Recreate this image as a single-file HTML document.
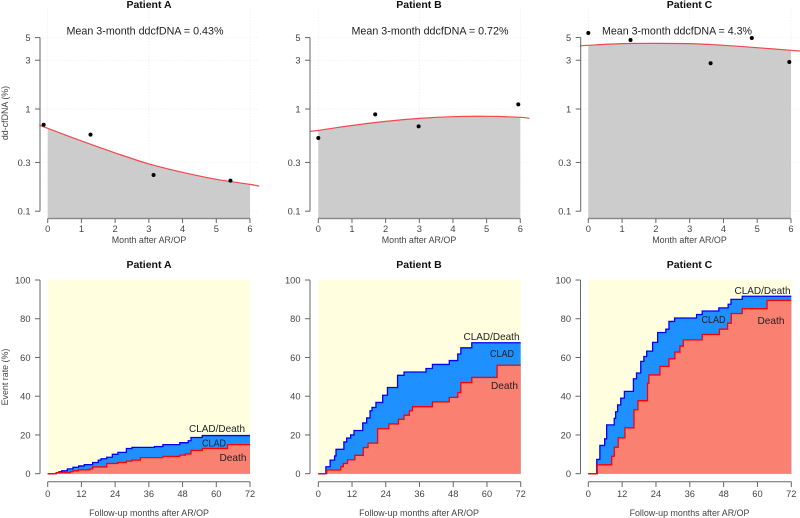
<!DOCTYPE html>
<html lang="en">
<head>
<meta charset="utf-8">
<title>Patient ddcfDNA and event rate charts</title>
<style>
html,body{margin:0;padding:0;background:#fff;}
svg{display:block;font-family:"Liberation Sans",sans-serif;}
.title{font-size:10.5px;font-weight:bold;fill:#111;text-anchor:middle;}
.axt{font-size:8.9px;fill:#444;text-anchor:middle;}
.tick{font-size:9.3px;fill:#444;}
.note{font-size:11px;fill:#222;}
.lab{font-size:10.5px;fill:#222;text-anchor:middle;}
</style>
</head>
<body>
<svg id="fig" width="800" height="518" viewBox="0 0 800 518" xmlns="http://www.w3.org/2000/svg">
<rect width="800" height="518" fill="#fff"/>
<g id="marks"></g>
<text class="title" x="149" y="8">Patient A</text>
<text class="title" x="419" y="8">Patient B</text>
<text class="title" x="689.5" y="8">Patient C</text>
<text class="title" x="149" y="268">Patient A</text>
<text class="title" x="419" y="268">Patient B</text>
<text class="title" x="689.5" y="268">Patient C</text>
<text class="note" x="66.5" y="34.5" textLength="157" lengthAdjust="spacingAndGlyphs">Mean 3-month ddcfDNA = 0.43%</text>
<text class="note" x="351.5" y="34.5" textLength="157" lengthAdjust="spacingAndGlyphs">Mean 3-month ddcfDNA = 0.72%</text>
<text class="note" x="602" y="34.5" textLength="150" lengthAdjust="spacingAndGlyphs">Mean 3-month ddcfDNA = 4.3%</text>
<text class="axt" x="149" y="243">Month after AR/OP</text>
<text class="axt" x="419" y="243">Month after AR/OP</text>
<text class="axt" x="689.5" y="243">Month after AR/OP</text>
<text class="axt" x="149" y="516">Follow-up months after AR/OP</text>
<text class="axt" x="419" y="516">Follow-up months after AR/OP</text>
<text class="axt" x="689.5" y="516">Follow-up months after AR/OP</text>
<text class="axt" transform="translate(8,113) rotate(-90)">dd-cfDNA (%)</text>
<text class="axt" transform="translate(8,377) rotate(-90)">Event rate (%)</text>
<text class="lab" x="217" y="432" textLength="56" lengthAdjust="spacingAndGlyphs">CLAD/Death</text>
<text class="lab" x="214" y="446.5" textLength="24" lengthAdjust="spacingAndGlyphs">CLAD</text>
<text class="lab" x="233" y="461" textLength="27" lengthAdjust="spacingAndGlyphs">Death</text>
<text class="lab" x="491.5" y="340" textLength="56" lengthAdjust="spacingAndGlyphs">CLAD/Death</text>
<text class="lab" x="502" y="357" textLength="24" lengthAdjust="spacingAndGlyphs">CLAD</text>
<text class="lab" x="504.5" y="389" textLength="27" lengthAdjust="spacingAndGlyphs">Death</text>
<text class="lab" x="762.5" y="294" textLength="56" lengthAdjust="spacingAndGlyphs">CLAD/Death</text>
<text class="lab" x="713.5" y="323" textLength="24" lengthAdjust="spacingAndGlyphs">CLAD</text>
<text class="lab" x="771" y="324" textLength="27" lengthAdjust="spacingAndGlyphs">Death</text>
</svg>
<script>
// Tick labels
const monthTicks = [0, 1, 2, 3, 4, 5, 6];
const logTicks = [0.1, 0.3, 1, 3, 5];
const followTicks = [0, 12, 24, 36, 48, 60, 72];
const rateTicks = [0, 20, 40, 60, 80, 100];

// Fitted curve stations (month, ddcfDNA %)
const curveMonths = [-0.25, 0, 1, 2, 3, 4, 5, 6, 6.27];
const curveA = [0.697, 0.647, 0.487, 0.372, 0.29, 0.24, 0.205, 0.183, 0.176];
const curveB = [0.604, 0.618, 0.69, 0.757, 0.81, 0.841, 0.848, 0.829, 0.81];
const curveC = [4.14, 4.2, 4.36, 4.39, 4.36, 4.2, 3.98, 3.75, 3.69];

// Observed samples
const pointMonthsA = [-0.12, 1.27, 3.14, 5.42];
const pointValuesA = [0.702, 0.561, 0.226, 0.199];
const pointMonthsB = [0, 1.69, 2.98, 5.94];
const pointValuesB = [0.52, 0.887, 0.677, 1.11];
const pointMonthsC = [0, 1.25, 3.62, 4.84, 5.95];
const pointValuesC = [5.54, 4.73, 2.8, 4.95, 2.88];

// Cumulative event step series
const compMonthsA = [3, 4, 5, 7, 9, 11, 13, 16, 18, 19, 21, 23, 25, 28, 30, 38, 41, 47, 50, 51, 55];
const compValuesA = [0.5, 1, 1.5, 2.5, 3.3, 4, 4.7, 5.8, 7, 7.7, 8.5, 10, 11, 13, 13.6, 14, 15, 16, 17, 18.7, 19.7];
const deathMonthsA = [3, 8, 9, 11, 15, 16, 21, 25, 28, 30, 33, 41, 47, 49, 51, 55, 64];
const deathValuesA = [0.5, 1, 1.5, 2, 2.5, 3.5, 5.3, 5.8, 6.5, 7, 8.3, 8.9, 9.6, 10.2, 12, 13, 15];

const compMonthsB = [2.7, 4.2, 5.8, 6.3, 9.1, 10.1, 11.5, 12.7, 15.8, 17.2, 18.4, 19.1, 20.5, 22.9, 24.6, 28.2, 30.5, 38.3, 40.6, 46.6, 49.6, 50.7, 54.6];
const compValuesB = [3.6, 7, 9.2, 12.6, 16.4, 18.4, 20, 22.3, 26.2, 28.8, 32.5, 34.2, 36.8, 40.5, 44.5, 50.8, 52.5, 54.3, 56.4, 58.4, 61.8, 65, 67.6];
const deathMonthsB = [3, 8, 8.9, 10.4, 13, 16, 17.7, 21.1, 25.1, 28.5, 30.5, 32.4, 33.5, 40.6, 46.6, 49.6, 50.7, 54.6, 63.6];
const deathValuesB = [1.9, 3.6, 5.3, 7.2, 9.5, 13.5, 15.8, 23.2, 25.7, 28.1, 30.2, 32.5, 34.6, 37.1, 39.4, 41.9, 47, 49.7, 56];

const compMonthsC = [3, 4.1, 5.8, 6.5, 9.2, 9.7, 10.4, 11.5, 12.8, 16, 17.1, 18.6, 19.7, 20.7, 22.8, 24.6, 27.5, 28.6, 30.6, 38.4, 40.4, 46.3, 49.6, 50.6, 54.6];
const compValuesC = [7.4, 14.6, 18, 25.2, 28.6, 32, 35.5, 39, 42.5, 49, 52, 58, 60.5, 63.3, 67.8, 72.9, 74.6, 78.6, 80.4, 82.2, 84, 85.6, 87.5, 90, 91.6];
const deathMonthsC = [3.2, 8.3, 9.2, 10.6, 13, 16.2, 17.6, 21, 21.5, 25.4, 28.6, 30.7, 32.5, 33.7, 40.4, 46.5, 49.4, 50.7, 54.6, 63.4];
const deathValuesC = [4.6, 9, 13.7, 18.5, 23.7, 33, 37.7, 46.7, 51, 55.4, 59.3, 62.8, 65.9, 69.1, 71.9, 74.6, 77.7, 82.7, 85.2, 89.5];

const NS = 'http://www.w3.org/2000/svg';
const root = document.getElementById('marks');
const AXIS = '#666';

function setAll(el, attrs) {
  for (const k in attrs) el.setAttribute(k, attrs[k]);
  root.appendChild(el);
  return el;
}
function line(name, x1, y1, x2, y2, stroke, w, dash) {
  const el = document.createElementNS(NS, 'line');
  
  
  setAll(el, {x1: x1, y1: y1, x2: x2, y2: y2, stroke: stroke, 'stroke-width': w});
  if (dash) el.setAttribute('stroke-dasharray', dash);
}
function path(name, d, fill, stroke, w) {
  const el = document.createElementNS(NS, 'path');
  
  
  setAll(el, {d: d, fill: fill, stroke: stroke, 'stroke-width': w, 'stroke-linejoin': 'miter'});
}
function label(name, x, y, str, anchor) {
  const el = document.createElementNS(NS, 'text');
  
  
  setAll(el, {x: x, y: y, class: 'tick', 'text-anchor': anchor});
  el.textContent = str;
}
function smooth(pts) {
  let d = 'M' + pts[0][0] + ' ' + pts[0][1];
  for (let i = 0; i < pts.length - 1; i++) {
    const p0 = pts[Math.max(i - 1, 0)], p1 = pts[i], p2 = pts[i + 1], p3 = pts[Math.min(i + 2, pts.length - 1)];
    d += 'C' + (p1[0] + (p2[0] - p0[0]) / 6) + ' ' + (p1[1] + (p2[1] - p0[1]) / 6) + ' ' +
         (p2[0] - (p3[0] - p1[0]) / 6) + ' ' + (p2[1] - (p3[1] - p1[1]) / 6) + ' ' + p2[0] + ' ' + p2[1];
  }
  return d;
}

function topPanel(id, axisX, x0, x6, values, pm, pv) {
  const sx = m => x0 + (x6 - x0) * m / 6;
  const sy = v => 109 - 102.2 * Math.log10(v);
  const bottom = 218.5;
  [0, 3, 6].forEach(m => line('grid-vertical-' + id + '-' + m, sx(m), 8, sx(m), bottom, '#eeeeee', 0.7, '1.5 1.5'));
  logTicks.forEach(t => line('grid-horizontal-' + id + '-' + t, axisX, sy(t), sx(6.27), sy(t), '#eeeeee', 0.7, '1.5 1.5'));
  const all = curveMonths.map((m, i) => [sx(m), sy(values[i])]);
  const inner = curveMonths.map((m, i) => [m, values[i]]).filter(p => p[0] >= 0 && p[0] <= 6).map(p => [sx(p[0]), sy(p[1])]);
  path('area-under-curve-' + id, smooth(inner) + 'L' + sx(6) + ' ' + bottom + 'L' + sx(0) + ' ' + bottom + 'Z', '#cccccc', 'none', 0);
  path('fit-curve-' + id, smooth(all), 'none', '#f2484f', 1.2);
  pm.forEach((m, i) => {
    const c = document.createElementNS(NS, 'circle');
    
    
    setAll(c, {cx: sx(m), cy: sy(pv[i]), r: 2, fill: '#000'});
  });
  line('y-axis-line-top-' + id, axisX, sy(5), axisX, sy(0.1), AXIS, 1);
  logTicks.forEach(t => {
    line('y-tick-top-' + id, axisX - 5, sy(t), axisX, sy(t), AXIS, 1);
    label('y-tick-label-top-' + id, axisX - 9.5, sy(t) + 3.4, String(t), 'end');
  });
  line('x-axis-line-top-' + id, sx(0), bottom, sx(6), bottom, '#8a8a8a', 1.5);
  monthTicks.forEach(t => {
    line('x-tick-top-' + id, sx(t), bottom, sx(t), 223, AXIS, 1);
    label('x-tick-label-top-' + id, sx(t), 232, String(t), 'middle');
  });
}

function stepPath(months, values, sx, sy) {
  let d = 'M' + sx(0) + ' ' + sy(0);
  months.forEach((m, i) => {
    d += 'H' + sx(m) + 'V' + sy(values[i]);
  });
  return d + 'H' + sx(72);
}

function bottomPanel(id, axisX, x0, x72, cm, cv, dm, dv) {
  const sx = m => x0 + (x72 - x0) * m / 72;
  const sy = v => 473.7 - 1.937 * v;
  path('plot-background-' + id, 'M' + sx(0) + ' ' + sy(100) + 'H' + sx(72) + 'V' + sy(0) + 'H' + sx(0) + 'Z', '#ffffe0', 'none', 0);
  const comp = stepPath(cm, cv, sx, sy);
  const death = stepPath(dm, dv, sx, sy);
  const close = 'V' + sy(0) + 'H' + sx(0) + 'Z';
  path('clad-area-' + id, comp + close, '#1e90ff', 'none', 0);
  path('death-area-' + id, death + close, '#fa8072', 'none', 0);
  path('clad-death-line-' + id, comp, 'none', '#0000ff', 1.3);
  path('death-line-' + id, death, 'none', '#ff0000', 1.3);
  line('y-axis-line-bottom-' + id, axisX, sy(0), axisX, sy(100), AXIS, 1);
  rateTicks.forEach(t => {
    line('y-tick-bottom-' + id, axisX - 5, sy(t), axisX, sy(t), AXIS, 1);
    label('y-tick-label-bottom-' + id, axisX - 9.5, sy(t) + 3.4, String(t), 'end');
  });
  line('x-axis-line-bottom-' + id, sx(0), 481.7, sx(72), 481.7, AXIS, 1);
  followTicks.forEach(t => {
    line('x-tick-bottom-' + id, sx(t), 481.7, sx(t), 487, AXIS, 1);
    label('x-tick-label-bottom-' + id, sx(t), 497, String(t), 'middle');
  });
}

topPanel('a', 40, 47.7, 250, curveA, pointMonthsA, pointValuesA);
topPanel('b', 310, 318.3, 520.3, curveB, pointMonthsB, pointValuesB);
topPanel('c', 580.7, 588.3, 791, curveC, pointMonthsC, pointValuesC);
bottomPanel('a', 40, 47.7, 250, compMonthsA, compValuesA, deathMonthsA, deathValuesA);
bottomPanel('b', 310, 318.3, 520.7, compMonthsB, compValuesB, deathMonthsB, deathValuesB);
bottomPanel('c', 580.5, 588.3, 791.3, compMonthsC, compValuesC, deathMonthsC, deathValuesC);
</script>
</body>
</html>
